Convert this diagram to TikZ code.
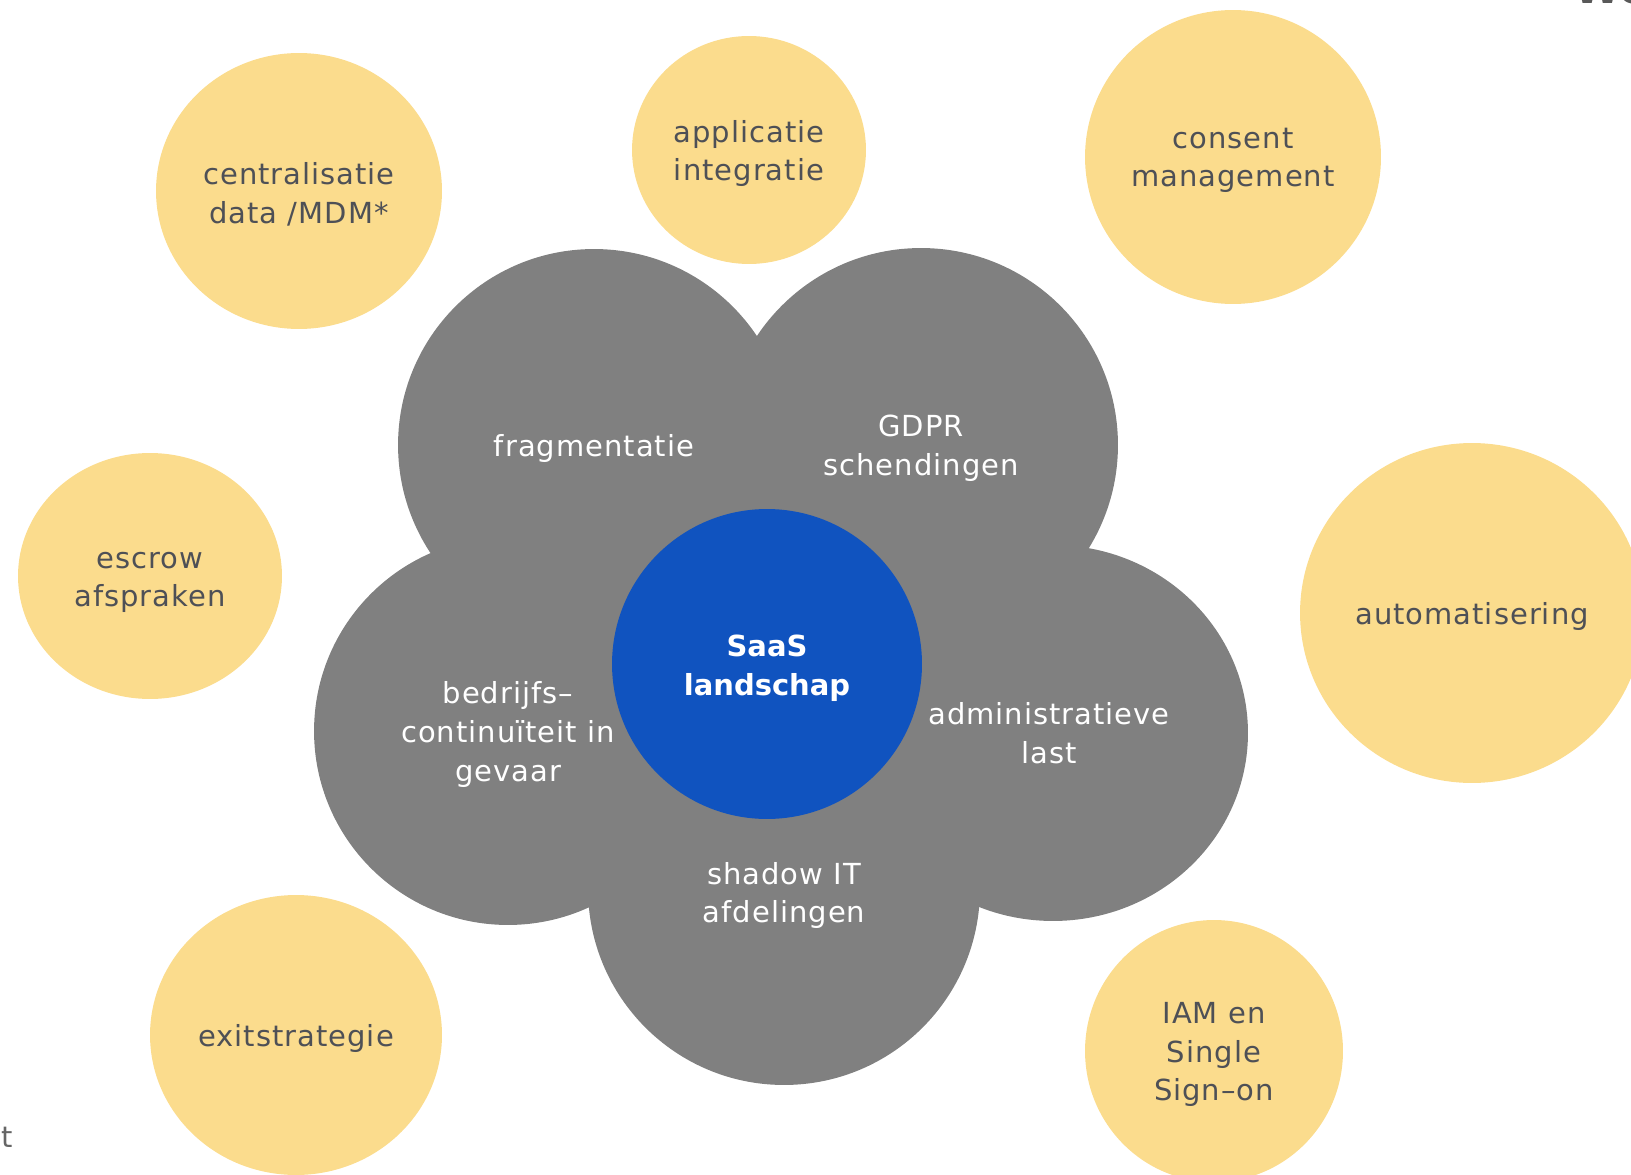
\documentclass[tikz,border=0pt]{standalone}
\usepackage{fontspec}
\setmainfont{DejaVu Sans}
\newfontfamily\spaced{DejaVu Sans}[LetterSpace=3.5]
\usepackage{tikz}
\usetikzlibrary{shapes.geometric}
\usepackage{xcolor}
\definecolor{bloem}{RGB}{128,128,128}
\definecolor{zon}{RGB}{251,220,141}
\definecolor{kern}{RGB}{16,83,191}
\definecolor{donker}{RGB}{78,80,86}
\tikzset{%
    bubble/.style={%
        ellipse, fill=zon, draw=none, inner sep=0pt
    },
    bubbletext/.style={%
        text=donker, align=center, yshift=-0.07cm,
        font=\spaced\fontsize{16.5}{22}\selectfont
    },
    petal/.style={%
        circle, fill=bloem, draw=none, inner sep=0pt, minimum size=#1
    },
    petaltext/.style={%
        text=white, align=center, yshift=-0.07cm,
        font=\spaced\fontsize{16.5}{22}\selectfont
    }
}

\begin{document}
\begin{tikzpicture}[x=0.02cm,y=-0.02cm]
    \useasboundingbox (0,0) rectangle (1631,1175);
    % outer themes
    \node[bubble, minimum width=5.72cm, minimum height=5.52cm] (mdm) at (299,191) {};
    \node[bubble, minimum width=4.68cm, minimum height=4.56cm] (integr) at (749,150) {};
    \node[bubble, minimum width=5.92cm, minimum height=5.88cm] (consent) at (1233,157) {};
    \node[bubble, minimum width=5.28cm, minimum height=4.92cm] (escrow) at (150,576) {};
    \node[bubble, minimum width=6.88cm, minimum height=6.80cm] (autom) at (1472,613) {};
    \node[bubble, minimum width=5.84cm, minimum height=5.60cm] (exit) at (296,1035) {};
    \node[bubble, minimum width=5.16cm, minimum height=5.24cm] (iam) at (1214,1051) {};
    \node[bubbletext] (mdmtxt) at (mdm) {centralisatie\\data /MDM*};
    \node[bubbletext] (integrtxt) at (integr) {applicatie\\integratie};
    \node[bubbletext] (consenttxt) at (consent) {consent\\management};
    \node[bubbletext] (escrowtxt) at ([yshift=-0.06cm]escrow) {escrow\\afspraken};
    \node[bubbletext] (automtxt) at (autom) {automatisering};
    \node[bubbletext] (exittxt) at (exit) {exitstrategie};
    \node[bubbletext] (iamtxt) at (iam) {IAM en\\Single\\Sign–on};
    % flower
    \node[petal=7.84cm] (frag) at (594,445) {};
    \node[petal=7.88cm] (gdpr) at (921,445) {};
    \node[petal=7.76cm] (cont) at (508,731) {};
    \node[ellipse, fill=bloem, inner sep=0pt, minimum width=7.8cm, minimum height=7.52cm] (admin) at (1053,733) {};
    \node[petal=7.84cm] (shadow) at (784,889) {};
    \node[circle, fill=kern, inner sep=0pt, minimum size=6.2cm] (saas) at (767,664) {};
    \node[text=white, align=center, font=\fontsize{16.5}{22}\selectfont\bfseries] (saastxt)
        at ([yshift=-0.08cm]saas) {SaaS\\landschap};
    \node[petaltext] (fragtxt) at (frag) {fragmentatie};
    \node[petaltext] (gdprtxt) at (gdpr) {GDPR\\schendingen};
    \node[petaltext] (conttxt) at (cont) {bedrijfs–\\continuïteit in\\gevaar};
    \node[petaltext] (admintxt) at ([xshift=-0.08cm,yshift=0.06cm]admin) {administratieve\\last};
    \node[petaltext] (shadowtxt) at ([yshift=-0.06cm]shadow) {shadow IT\\afdelingen};
    % cut-off text at the edges
    \node[anchor=base east, inner sep=0pt, text=black!60, font=\fontsize{16.5}{22}\selectfont] (rest) at (13,1147) {t};
    \node[anchor=base west, inner sep=0pt, text=black!65, font=\fontsize{24}{28}\selectfont\bfseries] (logo) at (1574,4) {We};
\end{tikzpicture}
\end{document}
